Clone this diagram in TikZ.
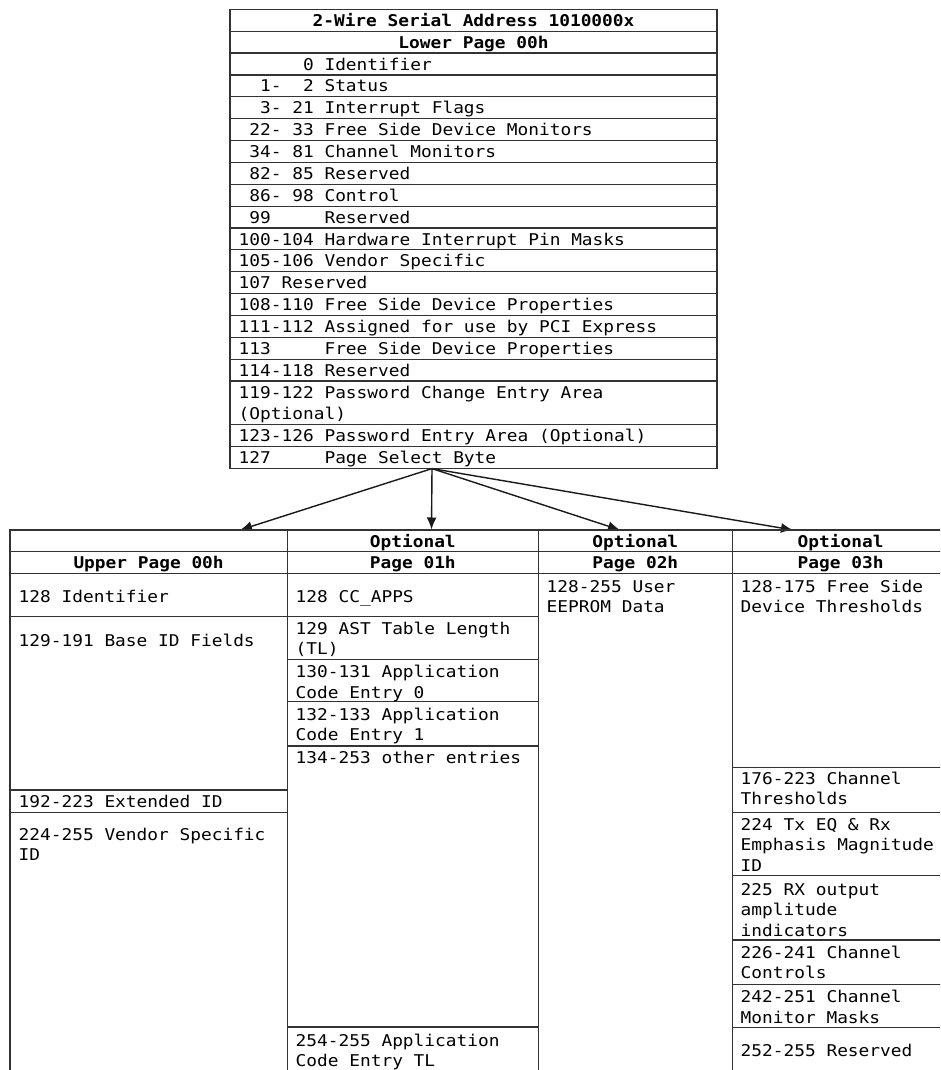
\documentclass[tikz,border=0pt]{standalone}
\usepackage{fontspec}
\newfontfamily\monofam[FakeStretch=1.1]{DejaVu Sans Mono}
\usetikzlibrary{arrows.meta}
\begin{document}
\begin{tikzpicture}[x=1pt,y=-1pt,
  grid/.style={line width=1.2pt, draw=black!80, line cap=rect},
  txt/.style={anchor=north west, inner sep=0pt, align=left,
    font=\monofam\fontsize{16.2}{20.7}\selectfont},
  hdr/.style={anchor=north, inner sep=0pt,
    font=\monofam\bfseries\fontsize{16.2}{20.7}\selectfont},
  arr/.style={line width=1.4pt, draw=black!90, -{Latex[length=12pt,width=10pt]}}]
\useasboundingbox (0,0) rectangle (940,1070);
\clip (0,0) rectangle (940,1070);
\fill[white] (0,0) rectangle (940,1070);

% ---------- top table ----------
\foreach \k in {0,...,17,19,20,21}
  \draw[grid] (230,{9.3+\k*21.87}) -- (717,{9.3+\k*21.87});
\draw[grid] (230,9.3) -- (230,468.57);
\draw[grid] (717,9.3) -- (717,468.57);

\node[hdr] (title) at (473.5,{20.2-8.6}) {\strut 2-Wire Serial Address 1010000x};
\node[hdr] (lower) at (473.5,{42.1-8.6}) {\strut Lower Page 00h};

\foreach \k/\t in {2/{~~~~~~0 Identifier},
  3/{~~1-~~2 Status},
  4/{~~3-~21 Interrupt Flags},
  5/{~22-~33 Free Side Device Monitors},
  6/{~34-~81 Channel Monitors},
  7/{~82-~85 Reserved},
  8/{~86-~98 Control},
  9/{~99~~~~~Reserved},
  10/{100-104 Hardware Interrupt Pin Masks},
  11/{105-106 Vendor Specific},
  12/{107 Reserved},
  13/{108-110 Free Side Device Properties},
  14/{111-112 Assigned for use by PCI Express},
  15/{113~~~~~Free Side Device Properties},
  16/{114-118 Reserved}}
  \node[txt] (r\k) at (238.5,{9.3+(\k+0.5)*21.87-8.6}) {\strut\t};
\node[txt] (r17) at (238.5,{392.6-8.6}) {\strut 119-122 Password Change Entry Area\\(Optional)};
\node[txt] (r19) at (238.5,{435.8-8.6}) {\strut 123-126 Password Entry Area (Optional)};
\node[txt] (r20) at (238.5,{457.6-8.6}) {\strut 127~~~~~Page Select Byte};

% ---------- arrows ----------
\coordinate (src) at (432,468.6);
\coordinate (t0) at (240,530);
\coordinate (t1) at (431.5,529.5);
\coordinate (t2) at (620,530);
\coordinate (t3) at (793,530);
\draw[arr] (src) -- (t0);
\draw[arr] (src) -- (t1);
\draw[arr] (src) -- (t2);
\draw[arr] (src) -- (t3);

% ---------- bottom table ----------
\foreach \y in {530,551.7,573.3}
  \draw[grid] (10,\y) -- (952,\y);
\foreach \x in {10,287.3,538.3,732.3,949}
  \draw[grid] (\x,530) -- (\x,1085);
\foreach \y in {616.7,790,812.7}
  \draw[grid] (10,\y) -- (287.3,\y);
\foreach \y in {616.7,659.3,701.7,746,1027}
  \draw[grid] (287.3,\y) -- (538.3,\y);
\foreach \y in {767.7,812.7,875.7,940,984.3,1027.7}
  \draw[grid] (732.3,\y) -- (949,\y);

% headers
\node[hdr] (o1) at (412.8,{541-8.6}) {\strut Optional};
\node[hdr] (o2) at (635.3,{541-8.6}) {\strut Optional};
\node[hdr] (o3) at (840.6,{541-8.6}) {\strut Optional};
\node[hdr] (p0) at (148.6,{562.5-8.6}) {\strut Upper Page 00h};
\node[hdr] (p1) at (412.8,{562.5-8.6}) {\strut Page 01h};
\node[hdr] (p2) at (635.3,{562.5-8.6}) {\strut Page 02h};
\node[hdr] (p3) at (840.6,{562.5-8.6}) {\strut Page 03h};

% column 1
\node[txt] (a1) at (18.5,{596-8.6}) {\strut 128 Identifier};
\node[txt] (a2) at (18.5,{640-8.6}) {\strut 129-191 Base ID Fields};
\node[txt] (a3) at (18.5,{801.5-8.6}) {\strut 192-223 Extended ID};
\node[txt] (a4) at (18.5,{834-8.6}) {\strut 224-255 Vendor Specific\\ID};

% column 2
\node[txt] (b1) at (295.5,{596-8.6}) {\strut 128 CC\_APPS};
\node[txt] (b2) at (295.5,{628-8.6}) {\strut 129 AST Table Length\\(TL)};
\node[txt] (b3) at (295.5,{671.5-8.6}) {\strut 130-131 Application\\Code Entry 0};
\node[txt] (b4) at (295.5,{714-8.6}) {\strut 132-133 Application\\Code Entry 1};
\node[txt] (b5) at (295.5,{757-8.6}) {\strut 134-253 other entries};
\node[txt] (b6) at (295.5,{1040-8.6}) {\strut 254-255 Application\\Code Entry TL};

% column 3
\node[txt] (c1) at (546.5,{586-8.6}) {\strut 128-255 User\\EEPROM Data};

% column 4
\node[txt] (d1) at (740.5,{586-8.6}) {\strut 128-175 Free Side\\Device Thresholds};
\node[txt] (d2) at (740.5,{778-8.6}) {\strut 176-223 Channel\\Thresholds};
\node[txt] (d3) at (740.5,{824-8.6}) {\strut 224 Tx EQ \& Rx\\Emphasis Magnitude\\ID};
\node[txt] (d4) at (740.5,{889-8.6}) {\strut 225 RX output\\amplitude\\indicators};
\node[txt] (d5) at (740.5,{952-8.6}) {\strut 226-241 Channel\\Controls};
\node[txt] (d6) at (740.5,{996.5-8.6}) {\strut 242-251 Channel\\Monitor Masks};
\node[txt] (d7) at (740.5,{1050-8.6}) {\strut 252-255 Reserved};
\end{tikzpicture}
\end{document}
